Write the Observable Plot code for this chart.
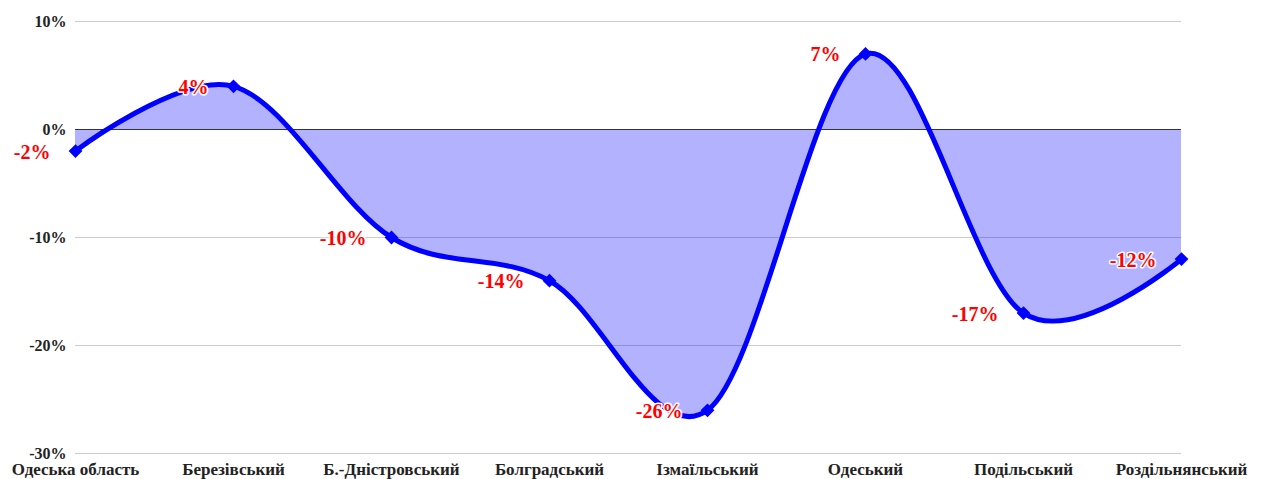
<!DOCTYPE html>
<html>
<head>
<meta charset="utf-8">
<script src="https://cdn.jsdelivr.net/npm/d3@7"></script>
<script src="https://cdn.jsdelivr.net/npm/@observablehq/plot@0.6"></script>
<style>
  html, body { margin: 0; padding: 0; background: #fff; }
  #chart svg { display: block; }
</style>
</head>
<body>
<div id="chart"></div>
<script>
const categories = ["Одеська область", "Березівський", "Б.-Дністровський", "Болградський", "Ізмаїльський", "Одеський", "Подільський", "Роздільнянський"];
const values = [-2, 4, -10, -14, -26, 7, -17, -12];
const yTicks = [-30, -20, -10, 0, 10];

const data = categories.map((c, i) => ({ cat: c, v: values[i] }));
const font = "'Liberation Serif', 'Times New Roman', serif";
const curve = "cardinal";

const chart = Plot.plot({
  width: 1264,
  height: 479,
  marginLeft: 75,
  marginRight: 83,
  marginTop: 21,
  marginBottom: 26,
  style: { fontFamily: font, fontSize: "17px", fontWeight: "bold", color: "#222", background: "#fff" },
  x: { type: "point", domain: categories, padding: 0, label: null, tickSize: 0, tickPadding: 9 },
  y: { domain: [-30, 10], ticks: yTicks, tickFormat: d => d + "%", label: null, tickSize: 0, tickPadding: 9 },
  marks: [
    Plot.gridY(yTicks.filter(d => d !== 0), { stroke: "#cccccc", strokeOpacity: 1, strokeWidth: 1 }),
    Plot.areaY(data, { x: "cat", y: "v", fill: "#0000ff", fillOpacity: 0.3, curve }),
    Plot.ruleY([0], { stroke: "#333", strokeWidth: 1 }),
    Plot.lineY(data, { x: "cat", y: "v", stroke: "#0000ff", strokeWidth: 5, curve }),
    Plot.dot(data, { x: "cat", y: "v", symbol: "square", fill: "#0000ff", r: 5.5, rotate: 45 }),
    Plot.text(data, {
      x: "cat", y: "v", text: d => d.v + "%", textAnchor: "end", dx: -25, dy: 1,
      fill: "red", stroke: "white", strokeWidth: 3, paintOrder: "stroke",
      fontSize: 20, fontWeight: "bold", fontFamily: font
    })
  ]
});
chart.querySelectorAll("g[aria-label='y-axis tick label'] text").forEach(t => t.setAttribute("font-size", "16"));
const yAxis = chart.querySelector("g[aria-label='y-axis tick label']");
if (yAxis) yAxis.setAttribute("font-size", "16");
document.getElementById("chart").appendChild(chart);
</script>
</body>
</html>
